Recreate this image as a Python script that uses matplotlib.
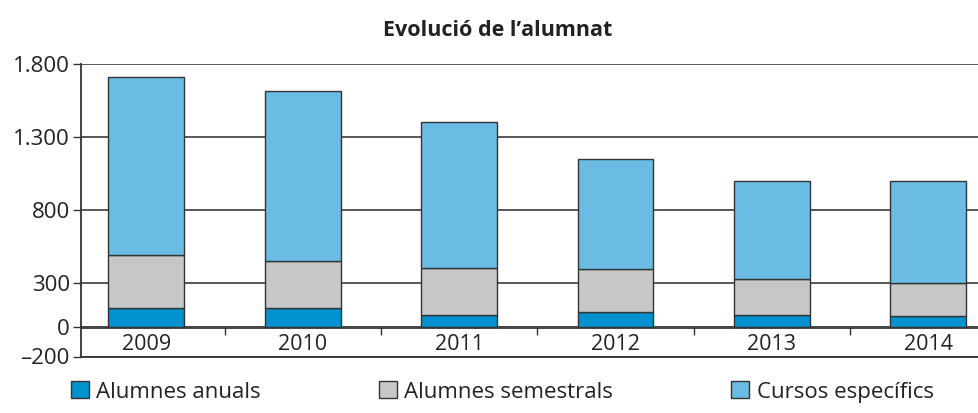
import matplotlib.pyplot as plt
import numpy as np
from matplotlib.ticker import FixedLocator, FixedFormatter

plt.rcParams["font.family"] = ["Open Sans", "DejaVu Sans"]

YEARS = ["2009", "2010", "2011", "2012", "2013", "2014"]
ANUALS = [132, 132, 82, 103, 82, 75]
SEMESTRALS = [361, 320, 324, 294, 248, 226]
CURSOS = [1222, 1165, 1001, 755, 673, 702]

SERIES_NAMES = ["Alumnes anuals", "Alumnes semestrals", "Cursos específics"]
SERIES_COLORS = ["#0092cf", "#c6c7c9", "#6bbce5"]

Y_TICKS = [-200, 0, 300, 800, 1300, 1800]
Y_TICK_LABELS = ["\u2013200", "0", "300", "800", "1.300", "1.800"]
Y_MIN, Y_MAX = -200, 1800

EDGE = "#333333"

fig = plt.figure(figsize=(9.79, 4.13), dpi=100)
ax = fig.add_axes([81 / 979, 56.5 / 413, 1 - 81 / 979, 292.2 / 413])

x = np.arange(len(YEARS))
bottom = np.zeros(len(YEARS))
for values, name, color in zip([ANUALS, SEMESTRALS, CURSOS], SERIES_NAMES, SERIES_COLORS):
    ax.bar(x, values, width=0.485, bottom=bottom, color=color, edgecolor=EDGE,
           linewidth=1.0, label=name, zorder=3)
    bottom += np.array(values)

ax.set_xlim(-0.4175, 5.324)
ax.set_ylim(Y_MIN, Y_MAX)

ax.yaxis.set_major_locator(FixedLocator(Y_TICKS))
ax.yaxis.set_major_formatter(FixedFormatter(Y_TICK_LABELS))
ax.tick_params(axis="y", length=6, width=1, color=EDGE, labelsize=16, pad=2,
               labelcolor="#222222")
ax.set_xticks([])
ax.grid(axis="y", color="#4a4a4a", linewidth=1.3, zorder=1)

for side in ["top", "right"]:
    ax.spines[side].set_visible(False)
for side in ["left", "bottom"]:
    ax.spines[side].set_color(EDGE)
    ax.spines[side].set_linewidth(1.3)

# axis at y = 0 carrying the year labels
zero_pos = (0 - Y_MIN) / (Y_MAX - Y_MIN)
sec = ax.secondary_xaxis(zero_pos)
sec.set_xticks(x, YEARS)
sec.set_xticks(x[:-1] + 0.5, minor=True)
sec.tick_params(which="major", length=0, pad=5, labelsize=15.5, labelcolor="#222222")
sec.tick_params(which="minor", length=6, width=1, color=EDGE, direction="out")
sec.spines["bottom"].set_color("#111111")
sec.spines["bottom"].set_linewidth(1.8)

fig.text(498 / 979, 1 - 30 / 413, "Evolució de l\u2019alumnat", ha="center", va="center",
         fontsize=15.5, fontweight="bold", color="#222222")

fig.legend(loc="center left", bbox_to_anchor=(62 / 979, 21 / 413), ncol=3,
           frameon=False, fontsize=16, handlelength=0.8, handleheight=0.8,
           handletextpad=0.35, columnspacing=5.3, borderaxespad=0,
           labelcolor="#222222")

fig.savefig("out.png", dpi=100)
